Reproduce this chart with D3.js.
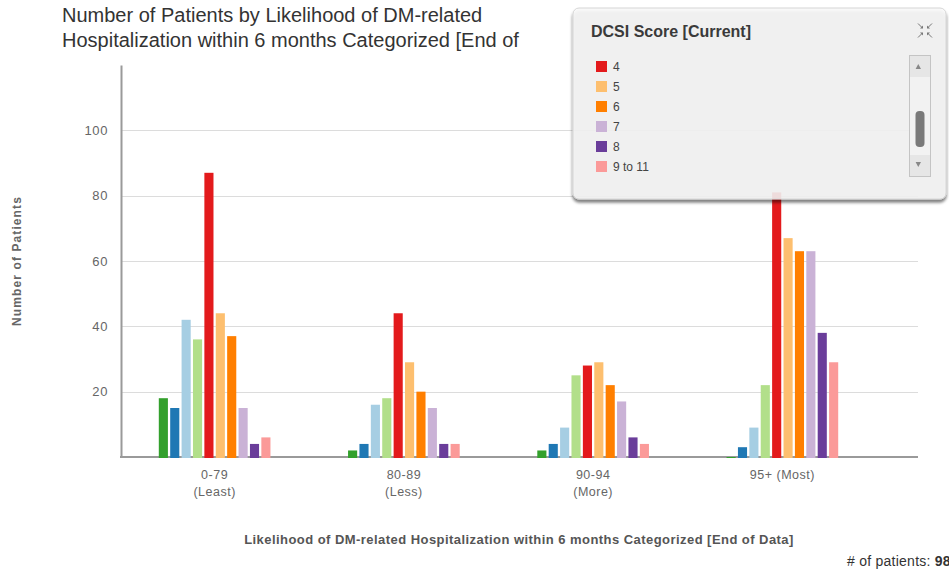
<!DOCTYPE html>
<html>
<head>
<meta charset="utf-8">
<script src="https://cdn.jsdelivr.net/npm/d3@7"></script>
<style>
  body { margin: 0; background: #fff; overflow: hidden; }
  svg { display: block; font-family: "Liberation Sans", Arial, Helvetica, sans-serif; }
</style>
</head>
<body>
<svg id="chart" width="949" height="571"></svg>
<script>
// Likelihood categories (x axis), each label split into its printed lines
const categories = ["0-79 (Least)", "80-89 (Less)", "90-94 (More)", "95+ (Most)"];
const categoryLines = [["0-79", "(Least)"], ["80-89", "(Less)"], ["90-94", "(More)"], ["95+ (Most)"]];

// DCSI score series, in bar order within each group
const series = ["0", "1", "2", "3", "4", "5", "6", "7", "8", "9 to 11"];
const seriesColors = ["#33a02c", "#1f78b4", "#a6cee3", "#b2df8a", "#e31a1c",
                      "#fdbf6f", "#ff7f00", "#cab2d6", "#6a3d9a", "#fb9a99"];

// Number of patients per score, one value per category
const score0 = [18, 2, 2, 0];
const score1 = [15, 4, 4, 3];
const score2 = [42, 16, 9, 9];
const score3 = [36, 18, 25, 22];
const score4 = [87, 44, 28, 81];
const score5 = [44, 29, 29, 67];
const score6 = [37, 20, 22, 63];
const score7 = [15, 15, 17, 63];
const score8 = [4, 4, 6, 38];
const score9to11 = [6, 4, 4, 29];
const seriesValues = [score0, score1, score2, score3, score4, score5, score6, score7, score8, score9to11];

const yTicks = [20, 40, 60, 80, 100];
const yMax = 120;

const titleLines = ["Number of Patients by Likelihood of DM-related",
                    "Hospitalization within 6 months Categorized [End of"];
const yTitle = "Number of Patients";
const xTitle = "Likelihood of DM-related Hospitalization within 6 months Categorized [End of Data]";
const legendTitle = "DCSI Score [Current]";

const svg = d3.select("#chart");

// ---- scales ----
const plotLeft = 121, plotRight = 918, plotTop = 65, plotBottom = 457;
const y = d3.scaleLinear().domain([0, yMax]).range([plotBottom, plotTop]);
const x0 = d3.scaleBand().domain(categories).range([120, 877]).paddingInner(0.41).paddingOuter(0.205);
const x1 = d3.scaleBand().domain(series).range([0, x0.bandwidth()]).paddingInner(0.2);
const color = d3.scaleOrdinal().domain(series).range(seriesColors);

// ---- title ----
svg.append("g").selectAll("text").data(titleLines).join("text")
  .attr("x", 62).attr("y", (d, i) => 22 + i * 25)
  .attr("font-size", 20).attr("fill", "#333")
  .text(d => d);

// ---- grid lines ----
svg.append("g").selectAll("line").data(yTicks).join("line")
  .attr("x1", plotLeft + 1).attr("x2", plotRight)
  .attr("y1", d => Math.round(y(d)) + 0.5).attr("y2", d => Math.round(y(d)) + 0.5)
  .attr("stroke", "#dcdcdc").attr("stroke-width", 1);

// ---- y axis ----
const yAxis = svg.append("g").attr("transform", `translate(${plotLeft},0)`)
  .call(d3.axisLeft(y).tickValues(yTicks).tickSize(0).tickSizeOuter(0).tickPadding(13));
yAxis.select(".domain").attr("stroke", "#9a9a9a").attr("stroke-width", 2);
yAxis.selectAll("text").attr("font-size", 13).attr("fill", "#666")
  .attr("font-family", "\"Liberation Sans\", Arial, sans-serif").attr("letter-spacing", 0.6);

svg.append("text")
  .attr("transform", `translate(21,261) rotate(-90)`)
  .attr("text-anchor", "middle")
  .attr("font-size", 12).attr("font-weight", "bold").attr("fill", "#666")
  .attr("letter-spacing", 1.1)
  .text(yTitle);

// ---- baseline ----
svg.append("line")
  .attr("x1", plotLeft - 1).attr("x2", plotRight)
  .attr("y1", plotBottom).attr("y2", plotBottom)
  .attr("stroke", "#9a9a9a").attr("stroke-width", 2);

// ---- bars ----
const groups = svg.append("g").selectAll("g").data(categories).join("g")
  .attr("transform", d => `translate(${x0(d)},0)`);
groups.selectAll("rect")
  .data((c, ci) => series.map((s, si) => ({ s, v: seriesValues[si][ci] })))
  .join("rect")
  .attr("x", d => x1(d.s))
  .attr("width", x1.bandwidth())
  .attr("y", d => y(d.v))
  .attr("height", d => y(0) - y(d.v) + 1)
  .attr("fill", d => color(d.s));

// ---- x axis labels ----
const xAxis = svg.append("g").attr("transform", `translate(0,${plotBottom})`)
  .call(d3.axisBottom(x0).tickSize(0).tickPadding(0));
xAxis.select(".domain").remove();
xAxis.selectAll(".tick text").each(function (d, i) {
  const t = d3.select(this).text(null)
    .attr("font-size", 12.5).attr("fill", "#666").attr("letter-spacing", 0.5)
    .attr("font-family", "\"Liberation Sans\", Arial, sans-serif")
    .attr("y", 0).attr("dy", null);
  categoryLines[i].forEach((line, li) => {
    t.append("tspan").attr("x", 0).attr("y", 22 + li * 17).text(line);
  });
});

svg.append("text")
  .attr("x", 519).attr("y", 544)
  .attr("text-anchor", "middle")
  .attr("font-size", 13).attr("font-weight", "bold").attr("fill", "#555")
  .attr("letter-spacing", 0.45)
  .text(xTitle);

// ---- patient total ----
const total = d3.sum(seriesValues, arr => d3.sum(arr));
const foot = svg.append("text").attr("x", 847).attr("y", 566)
  .attr("font-size", 14).attr("fill", "#333").attr("letter-spacing", 0.25);
foot.append("tspan").text("# of patients: ");
foot.append("tspan").attr("font-weight", "bold").text(total);

// ---- legend panel ----
const defs = svg.append("defs");
const shadow = defs.append("filter").attr("id", "panelShadow")
  .attr("x", "-5%").attr("y", "-5%").attr("width", "110%").attr("height", "120%");
shadow.append("feDropShadow").attr("dx", 0).attr("dy", 3).attr("stdDeviation", 1.8)
  .attr("flood-color", "#000").attr("flood-opacity", 0.6);

const legend = svg.append("g");
legend.append("rect")
  .attr("x", 573).attr("y", 8).attr("width", 373).attr("height", 191).attr("rx", 6)
  .attr("fill", "#fafafa").attr("fill-opacity", 0.82)
  .attr("stroke", "#d6d6d6").attr("stroke-width", 1)
  .attr("filter", "url(#panelShadow)");

legend.append("text")
  .attr("x", 591).attr("y", 37)
  .attr("font-size", 16).attr("font-weight", "bold").attr("fill", "#3a3a3a")
  .text(legendTitle);

// collapse icon: four small arrows pointing toward the centre
const icon = legend.append("g").attr("transform", "translate(925,30.5)")
  .attr("fill", "#777").attr("stroke", "#777").attr("stroke-width", 1);
[[-1, -1], [1, -1], [-1, 1], [1, 1]].forEach(([sx, sy]) => {
  icon.append("line")
    .attr("x1", sx * 7).attr("y1", sy * 7).attr("x2", sx * 3).attr("y2", sy * 3);
  icon.append("path")
    .attr("stroke", "none")
    .attr("d", `M${sx * 2},${sy * 2}L${sx * 5},${sy * 2}L${sx * 2},${sy * 5}Z`);
});

// scrolled list of entries: the list window starts at the fifth score
const firstVisible = 4;
const rowStep = 20;
const visible = series.slice(firstVisible);
const rows = legend.append("g").selectAll("g").data(visible).join("g")
  .attr("transform", (d, i) => `translate(596,${66.5 + i * rowStep})`);
rows.append("rect").attr("x", 0).attr("y", -5.5).attr("width", 11).attr("height", 11)
  .attr("fill", d => color(d));
rows.append("text").attr("x", 17).attr("y", 0).attr("dy", "0.36em")
  .attr("font-size", 12).attr("fill", "#444").text(d => d);

// scrollbar
const sb = legend.append("g");
sb.append("rect").attr("x", 909.5).attr("y", 55.5).attr("width", 21).attr("height", 121)
  .attr("fill", "#f2f2f2").attr("stroke", "#c4c4c4");
sb.append("rect").attr("x", 910).attr("y", 56).attr("width", 20).attr("height", 21).attr("fill", "#e6e6e6");
sb.append("rect").attr("x", 910).attr("y", 155).attr("width", 20).attr("height", 21).attr("fill", "#e6e6e6");
sb.append("path").attr("d", "M918.3,64L921,69L915.6,69Z").attr("fill", "#888");
sb.append("path").attr("d", "M918.3,167L921,162L915.6,162Z").attr("fill", "#888");
sb.append("rect").attr("x", 915.5).attr("y", 111).attr("width", 9).attr("height", 36).attr("rx", 4)
  .attr("fill", "#7a7a7a");
</script>
</body>
</html>
